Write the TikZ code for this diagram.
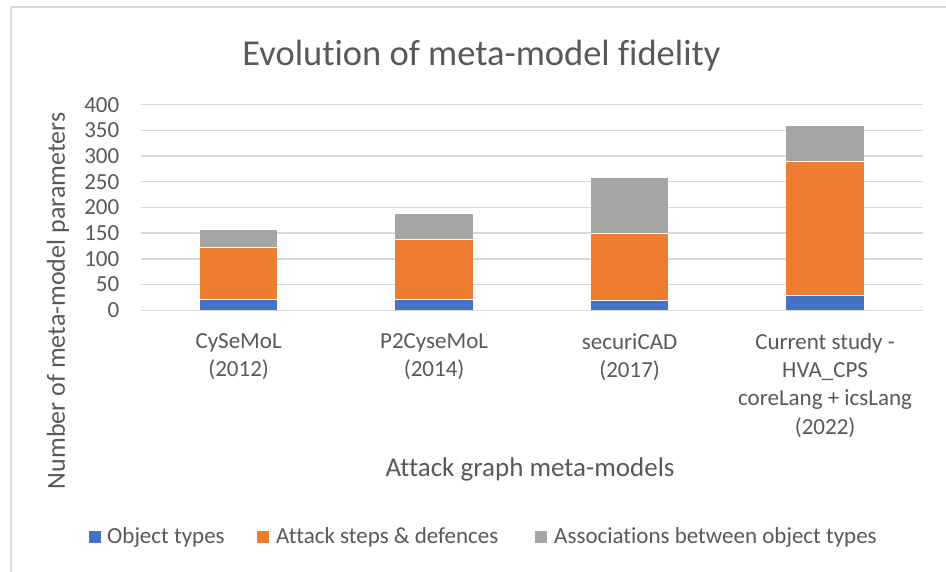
\documentclass[tikz,border=0pt]{standalone}
\usepackage{fontspec}
\setmainfont{Carlito}[Ligatures=NoCommon]
\definecolor{txt}{HTML}{595959}
\definecolor{gridc}{HTML}{D9D9D9}
\definecolor{sblue}{HTML}{4472C4}
\definecolor{sorange}{HTML}{ED7D31}
\definecolor{sgray}{HTML}{A5A5A5}
\begin{document}
\begin{tikzpicture}[x=1pt,y=-1pt,
  lbl/.style={text=txt,font=\fontsize{23}{28.3}\selectfont,inner sep=0pt},
  gline/.style={draw=gridc,line width=1.4pt},
  seg/.style={draw=white,line width=0.5pt},
  key/.style={minimum size=12pt,inner sep=0pt}]
\useasboundingbox (0,0) rectangle (946,571);
\fill[white] (0,0) rectangle (946,571);
\draw[gridc,line width=1.2pt] (11,575) -- (11,7) -- (950,7);
% title
\node[text=txt,font=\fontsize{36.5}{42}\selectfont,inner sep=0pt,anchor=base] (title) at (481.5,65.5) {Evolution of meta-model fidelity};
% grid and ticks
\foreach \v in {0,50,...,400}{
  \draw[gline] (140.7,{310.3-0.5142*\v}) -- (922.7,{310.3-0.5142*\v});
  \node[lbl,anchor=east] (tick\v) at (119.5,{310.3-0.5142*\v}) {\v};
}
% bars
\foreach \c/\a/\b/\d [count=\i] in {238.6/21/123/156,434.1/22/138/187,629.6/20/150/258,825.1/29/290/359}{
  \fill[sblue] ({\c-38.8},310.3) rectangle ({\c+38.8},{310.3-0.5142*\a});
  \fill[sorange] ({\c-38.8},{310.3-0.5142*\a}) rectangle ({\c+38.8},{310.3-0.5142*\b});
  \fill[sgray] ({\c-38.8},{310.3-0.5142*\b}) rectangle ({\c+38.8},{310.3-0.5142*\d});
  \draw[seg] ({\c-38.8},{310.3-0.5142*\a}) -- ({\c+38.8},{310.3-0.5142*\a});
  \draw[seg] ({\c-38.8},{310.3-0.5142*\b}) -- ({\c+38.8},{310.3-0.5142*\b});
}
% category labels
\node[lbl,align=center,anchor=north] (c1) at (238.6,333) {CySeMoL\\(2012)};
\node[lbl,align=center,anchor=north] (c2) at (434.1,333) {P2CyseMoL\\(2014)};
\node[lbl,align=center,anchor=north] (c3) at (629.6,333) {securiCAD\\(2017)};
\node[lbl,align=center,anchor=north] (c4) at (825.1,333) {Current study -\\HVA\_CPS\\coreLang + icsLang\\(2022)};
% axis titles
\node[text=txt,font=\fontsize{27}{32}\selectfont,inner sep=0pt] (xtitle) at (530,469) {Attack graph meta-models};
\node[text=txt,font=\fontsize{26}{31}\selectfont,inner sep=0pt,rotate=90] (ytitle) at (58,301) {Number of meta-model parameters};
% legend
\node[key,fill=sblue] (k1) at (94.5,537) {};
\node[lbl,anchor=west] (l1) at (107,537) {Object types};
\node[key,fill=sorange] (k2) at (263,537) {};
\node[lbl,anchor=west] (l2) at (276,537) {Attack steps \& defences};
\node[key,fill=sgray] (k3) at (541,537) {};
\node[lbl,anchor=west] (l3) at (554,537) {Associations between object types};
\end{tikzpicture}
\end{document}
